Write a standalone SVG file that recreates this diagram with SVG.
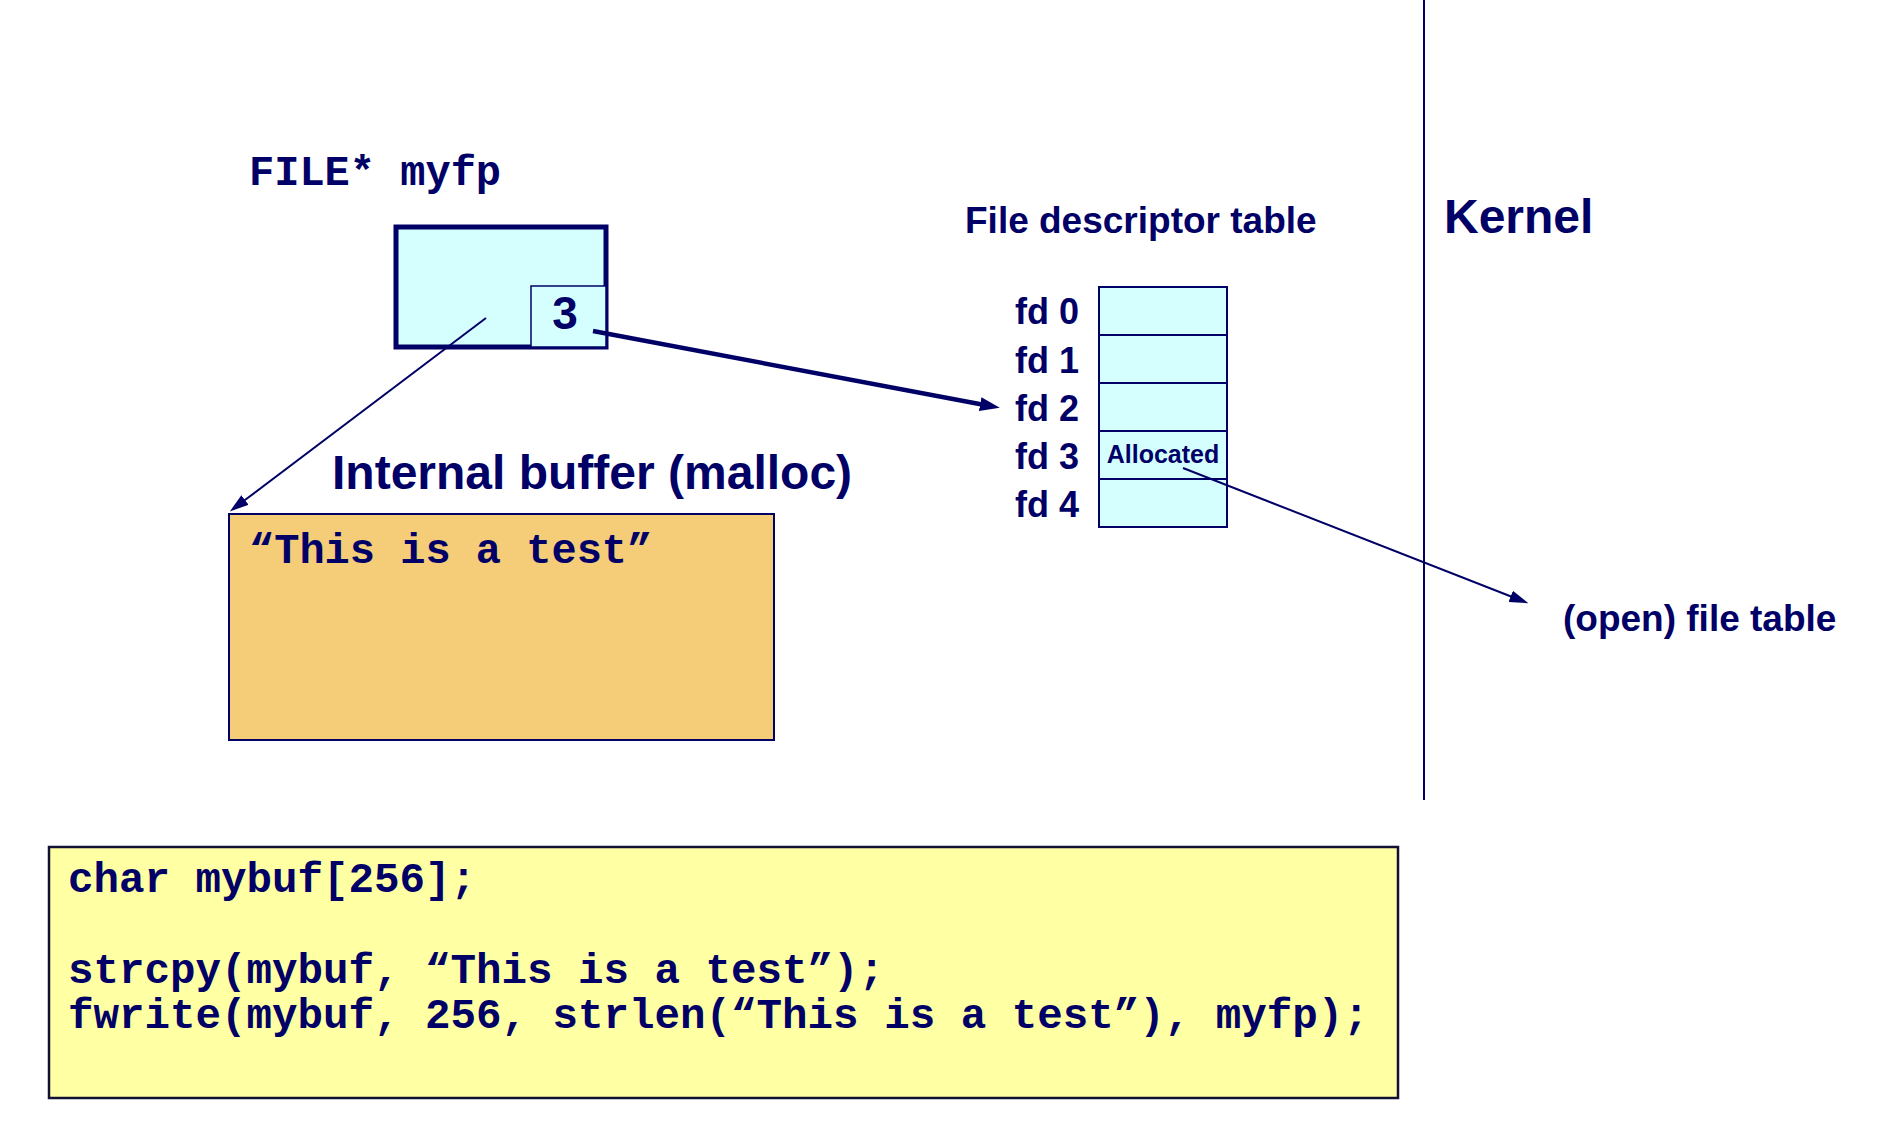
<svg xmlns="http://www.w3.org/2000/svg" width="1896" height="1140" viewBox="0 0 1896 1140">
<style>
.sans{font-family:"Liberation Sans",Arial,sans-serif;font-weight:bold;fill:#000066}
.mono{font-family:"Liberation Mono","Courier New",monospace;font-weight:bold;fill:#000066}
.cell{fill:#D5FFFF;stroke:#000066;stroke-width:2}
.conn{stroke:#000066;fill:none}
</style>
<defs>
<marker id="ah" markerUnits="userSpaceOnUse" markerWidth="22" markerHeight="16" refX="10" refY="7" orient="auto">
<path d="M0,0 L20,7 L0,14 z" fill="#000066"/>
</marker>
<marker id="ahs" markerUnits="userSpaceOnUse" markerWidth="22" markerHeight="14" refX="10" refY="6" orient="auto">
<path d="M0,0 L19,6 L0,12 z" fill="#000066"/>
</marker>
</defs>
<rect width="1896" height="1140" fill="#ffffff"/>

<line x1="1424" y1="0" x2="1424" y2="800" stroke="#000066" stroke-width="2"/>

<g id="kernel-label"><text class="sans" x="1444" y="233" font-size="48">Kernel</text></g>

<g id="file-ptr">
<text class="mono" x="249" y="185" font-size="42">FILE* myfp</text>
<rect x="396" y="227" width="210" height="120" fill="#D5FFFF" stroke="#000066" stroke-width="5"/>
<rect x="531" y="286" width="75" height="61" fill="#D5FFFF" stroke="#000066" stroke-width="1.5"/>
<text class="sans" x="565" y="329" font-size="46" text-anchor="middle">3</text>
</g>

<g id="buffer">
<text class="sans" x="332" y="489" font-size="48">Internal buffer (malloc)</text>
<rect x="229" y="514" width="545" height="226" fill="#F5CC78" stroke="#000066" stroke-width="2"/>
<text class="mono" x="249" y="563" font-size="42">“This is a test”</text>
</g>

<g id="fd-table">
<text class="sans" x="965" y="233" font-size="37">File descriptor table</text>
<rect class="cell" x="1099" y="287" width="128" height="48"/>
<rect class="cell" x="1099" y="335" width="128" height="48"/>
<rect class="cell" x="1099" y="383" width="128" height="48"/>
<rect class="cell" x="1099" y="431" width="128" height="48"/>
<rect class="cell" x="1099" y="479" width="128" height="48"/>
<text class="sans" x="1079" y="324" font-size="36" text-anchor="end">fd 0</text>
<text class="sans" x="1079" y="373" font-size="36" text-anchor="end">fd 1</text>
<text class="sans" x="1079" y="421" font-size="36" text-anchor="end">fd 2</text>
<text class="sans" x="1079" y="469" font-size="36" text-anchor="end">fd 3</text>
<text class="sans" x="1079" y="517" font-size="36" text-anchor="end">fd 4</text>
<text class="sans" x="1163" y="463" font-size="25" text-anchor="middle">Allocated</text>
</g>

<g id="open-file-table"><text class="sans" x="1563" y="631" font-size="37">(open) file table</text></g>

<g id="code">
<rect x="49" y="847" width="1349" height="251" fill="#FFFFA3" stroke="#111133" stroke-width="2.5"/>
<text class="mono" x="68" y="892" font-size="42.5">char mybuf[256];</text>
<text class="mono" x="68" y="983" font-size="42.5">strcpy(mybuf, “This is a test”);</text>
<text class="mono" x="68" y="1028" font-size="42.5">fwrite(mybuf, 256, strlen(“This is a test”), myfp);</text>
</g>

<g id="connectors">
<line class="conn" x1="593" y1="331" x2="990" y2="406" stroke-width="4.5" marker-end="url(#ah)"/>
<line class="conn" x1="486" y1="318" x2="237" y2="506" stroke-width="2" marker-end="url(#ahs)"/>
<line class="conn" x1="1183" y1="468" x2="1520" y2="600" stroke-width="2" marker-end="url(#ahs)"/>
</g>
</svg>
